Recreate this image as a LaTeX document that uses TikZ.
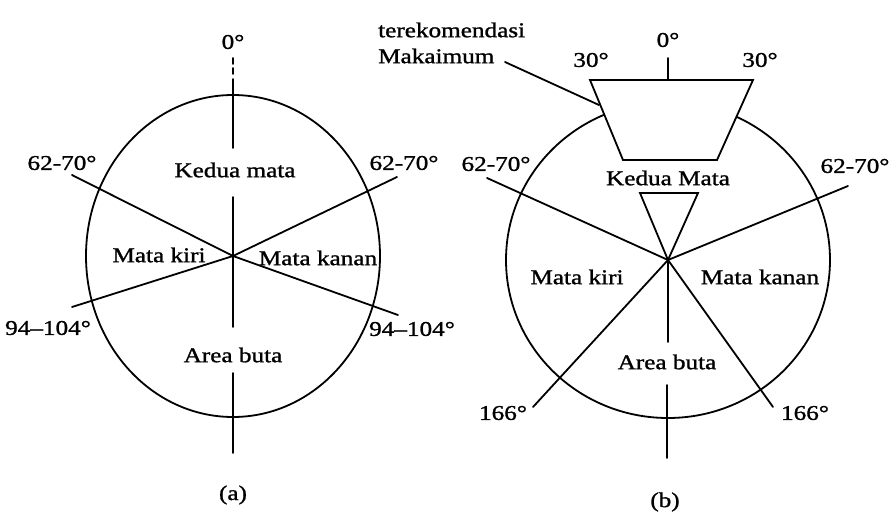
\documentclass[tikz,border=0pt]{standalone}
\usepackage{fontspec}
\setmainfont{Liberation Serif}[FakeStretch=1.2, FakeBold=1.2]
\usetikzlibrary{positioning}

\begin{document}
\begin{tikzpicture}[
    x=1pt, y=-1pt,
    edge/.style={line width=1.8pt, line cap=round},
    lbl/.style={font=\fontsize{21}{26}\selectfont, inner sep=0pt},
    caption/.style={lbl}
]
    \useasboundingbox (0,0) rectangle (892,514);

    % --- FIELD (a): circle, axis and the four rays ---
    \coordinate (A) at (233,256);
    \draw[edge] (A) ellipse [x radius=147, y radius=161];
    \foreach \ya/\yb in {58/64, 68/74, 79/148, 197/327, 373/453}
        \draw[edge] (233,\ya) -- (233,\yb);

    \coordinate (a-ul) at (72,175);
    \coordinate (a-ur) at (397,177);
    \coordinate (a-ll) at (72,307);
    \coordinate (a-lr) at (398,315);
    \foreach \e in {a-ul, a-ur, a-ll, a-lr}
        \draw[edge] (A) -- (\e);

    % labels of (a)
    \node[lbl] (a-zero) at (233,42) {0°};
    \node[lbl] (a-ul-lbl) at (62,163) {62-70°};
    \node[lbl] (a-ur-lbl) at (404,163) {62-70°};
    \node[lbl] (a-ll-lbl) at (48,328) {94--104°};
    \node[lbl] (a-lr-lbl) at (412,329) {94--104°};
    \node[lbl] (a-both) at (235,170) {Kedua mata};
    \node[lbl] (a-left) at (159,255) {Mata kiri};
    \node[lbl] (a-right) at (318,258) {Mata kanan};
    \node[lbl] (a-blind) at (233,355) {Area buta};
    \node[caption] (a-cap) at (233,495) {(a)};

    % --- FIELD (b): circle, recommended zone and rays ---
    \coordinate (B) at (668,260);
    \draw[edge] (B) ellipse [x radius=162, y radius=158];

    % trapezoid covers the top of the circle
    \coordinate (t-tl) at (590,80);
    \coordinate (t-tr) at (753,80);
    \coordinate (t-br) at (717,160);
    \coordinate (t-bl) at (623,160);
    \coordinate (t-top) at (668,80);
    \draw[edge, fill=white] (t-tl) -- (t-tr) -- (t-br) -- (t-bl) -- cycle;
    \draw[edge] (t-top) -- ++(0,-22);

    % small triangle with its tip on the centre
    \coordinate (v-l) at (640,193);
    \coordinate (v-r) at (698,193);
    \draw[edge] (v-l) -- (v-r) -- (B) -- cycle;

    \coordinate (b-ul) at (487,178);
    \coordinate (b-ur) at (848,186);
    \coordinate (b-ll) at (533,407);
    \coordinate (b-lr) at (773,407);
    \foreach \e in {b-ul, b-ur, b-ll, b-lr}
        \draw[edge] (B) -- (\e);
    \draw[edge] (B) -- (668,342);
    \draw[edge] (667,385) -- (667,458);

    % labels of (b)
    \node[lbl, align=left, anchor=west] (rec) at (378,43) {terekomendasi\\Makaimum};
    \coordinate (rec-from) at (505,62);
    \coordinate (rec-to) at (599,105);
    \draw[edge] (rec-from) -- (rec-to);
    \node[lbl] (b-zero) at (668,40) {0°};
    \node[lbl] (b-tl-lbl) at (591,60) {30°};
    \node[lbl] (b-tr-lbl) at (760,60) {30°};
    \node[lbl] (b-ul-lbl) at (496,164) {62-70°};
    \node[lbl] (b-ur-lbl) at (855,166) {62-70°};
    \node[lbl] (b-ll-lbl) at (503,413) {166°};
    \node[lbl] (b-lr-lbl) at (805,413) {166°};
    \node[lbl] (b-both) at (668,178) {Kedua Mata};
    \node[lbl] (b-left) at (577,277) {Mata kiri};
    \node[lbl] (b-right) at (760,277) {Mata kanan};
    \node[lbl] (b-blind) at (667,362) {Area buta};
    \node[caption] (b-cap) at (665,502) {(b)};

\end{tikzpicture}
\end{document}
